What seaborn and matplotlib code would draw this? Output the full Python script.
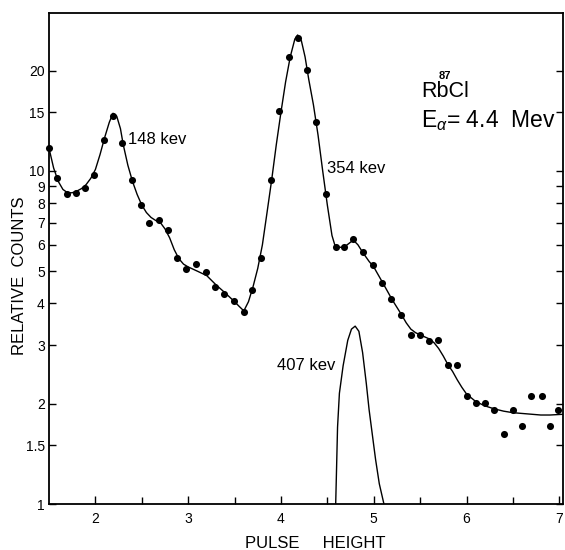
import matplotlib
matplotlib.use("Agg")
import matplotlib.pyplot as plt
import matplotlib.ticker as mticker
import seaborn as sns
import pandas as pd

# ---- data ----
pulse_height = [1.50, 1.59, 1.69, 1.79, 1.89, 1.99, 2.09, 2.19, 2.29, 2.39,
                2.49, 2.58, 2.69, 2.78, 2.88, 2.98, 3.08, 3.19, 3.29, 3.39,
                3.49, 3.60, 3.69, 3.79, 3.89, 3.98, 4.09, 4.18, 4.28, 4.38,
                4.49, 4.59, 4.68, 4.78, 4.88, 4.99, 5.09, 5.19, 5.29, 5.40,
                5.50, 5.60, 5.69, 5.80, 5.90, 6.00, 6.10, 6.20, 6.30, 6.40,
                6.50, 6.60, 6.70, 6.81, 6.90, 6.99]
counts = [11.75, 9.5, 8.5, 8.6, 8.9, 9.7, 12.4, 14.6, 12.1, 9.4,
          7.9, 6.97, 7.13, 6.65, 5.47, 5.07, 5.26, 4.96, 4.47, 4.27,
          4.06, 3.78, 4.39, 5.49, 9.4, 15.1, 22.0, 25.1, 20.1, 14.0,
          8.53, 5.9, 5.9, 6.23, 5.7, 5.22, 4.62, 4.12, 3.69, 3.21,
          3.21, 3.09, 3.11, 2.61, 2.61, 2.11, 2.01, 2.01, 1.91, 1.62,
          1.92, 1.71, 2.11, 2.11, 1.72, 1.92]

fit_x = [1.50, 1.55, 1.60, 1.65, 1.70, 1.75, 1.80, 1.85, 1.90, 1.95,
         2.00, 2.05, 2.10, 2.15, 2.19, 2.23, 2.27, 2.30, 2.35, 2.40,
         2.45, 2.50, 2.55, 2.60, 2.65, 2.70, 2.75, 2.80, 2.85, 2.90,
         2.95, 3.00, 3.10, 3.20, 3.30, 3.40, 3.50, 3.55, 3.60, 3.65,
         3.70, 3.75, 3.80, 3.85, 3.90, 3.95, 4.00, 4.05, 4.10, 4.15,
         4.18, 4.22, 4.26, 4.30, 4.35, 4.40, 4.45, 4.50, 4.55, 4.58,
         4.62, 4.68, 4.73, 4.78, 4.83, 4.88, 4.95, 5.00, 5.10, 5.20,
         5.30, 5.35, 5.40, 5.45, 5.50, 5.60, 5.65, 5.70, 5.75, 5.80,
         5.85, 5.90, 5.95, 6.00, 6.10, 6.20, 6.30, 6.40, 6.50, 6.60,
         6.70, 6.80, 6.90, 7.05]
fit_y = [11.7, 10.2, 9.3, 8.8, 8.6, 8.6, 8.7, 8.85, 9.1, 9.5,
         10.1, 11.2, 12.6, 14.0, 14.9, 14.6, 13.4, 12.0, 10.4, 9.3,
         8.5, 7.9, 7.5, 7.25, 7.1, 7.0, 6.7, 6.3, 5.8, 5.45,
         5.25, 5.15, 5.0, 4.85, 4.55, 4.3, 4.05, 3.92, 3.80, 4.05,
         4.5, 5.1, 6.0, 7.5, 9.4, 12.0, 15.0, 18.5, 22.0, 24.9,
         25.6, 24.6, 22.0, 18.8, 15.8, 12.8, 10.0, 7.9, 6.4, 6.0,
         5.9, 5.9, 6.05, 6.2, 6.0, 5.7, 5.35, 5.15, 4.6, 4.1,
         3.7, 3.5, 3.35, 3.27, 3.22, 3.13, 3.05, 2.93, 2.78, 2.62,
         2.50, 2.36, 2.24, 2.14, 2.03, 1.97, 1.93, 1.90, 1.88, 1.87,
         1.86, 1.85, 1.85, 1.86]

peak407_x = [4.59, 4.60, 4.61, 4.63, 4.67, 4.72, 4.76, 4.80, 4.84, 4.88,
             4.92, 4.95, 5.00, 5.02, 5.06, 5.11]
peak407_y = [1.0, 1.3, 1.7, 2.15, 2.6, 3.1, 3.35, 3.42, 3.3, 2.85,
             2.3, 1.92, 1.5, 1.36, 1.15, 1.0]

y_ticks = [1, 1.5, 2, 3, 4, 5, 6, 7, 8, 9, 10, 15, 20]
y_tick_labels = ["1", "1.5", "2", "3", "4", "5", "6", "7", "8", "9", "10", "15", "20"]
x_ticks = [2, 3, 4, 5, 6, 7]
x_minor_ticks = [2.5, 3.5, 4.5, 5.5, 6.5]

# ---- style ----
sns.set_theme(style="ticks")
plt.rcParams["font.family"] = ["Liberation Sans", "DejaVu Sans"]
plt.rcParams["text.color"] = "black"
plt.rcParams["axes.labelcolor"] = "black"
plt.rcParams["mathtext.fontset"] = "custom"
plt.rcParams["mathtext.rm"] = "Liberation Sans"
plt.rcParams["mathtext.it"] = "Liberation Sans:italic"

fig = plt.figure(figsize=(5.65, 5.5), dpi=100)
ax = fig.add_axes([49 / 565, 46 / 550, (563 - 49) / 565, (504 - 13) / 550])

pts = pd.DataFrame({"x": pulse_height, "y": counts})
fit = pd.DataFrame({"x": fit_x, "y": fit_y})
p407 = pd.DataFrame({"x": peak407_x, "y": peak407_y})

ax.set_yscale("log")
sns.lineplot(data=fit, x="x", y="y", ax=ax, color="black", linewidth=1.0,
             sort=False, estimator=None)
sns.lineplot(data=p407, x="x", y="y", ax=ax, color="black", linewidth=1.0,
             sort=False, estimator=None)
sns.scatterplot(data=pts, x="x", y="y", ax=ax, color="black", s=26,
                edgecolor="black", linewidth=0, clip_on=False, zorder=5)

ax.set_xlim(1.5, 7.04)
ax.set_ylim(1, 29.8)

ax.set_yticks(y_ticks)
ax.set_yticklabels(y_tick_labels)
ax.yaxis.set_minor_locator(mticker.NullLocator())
ax.set_xticks(x_ticks)
ax.set_xticks(x_minor_ticks, minor=True)
ax.tick_params(axis="both", which="both", direction="in", color="black",
               width=1.0, labelsize=10, labelcolor="black")
ax.tick_params(axis="y", which="major", length=5, pad=3, right=True)
ax.tick_params(axis="x", which="major", length=6, pad=6)
ax.tick_params(axis="x", which="minor", length=5)

for s in ax.spines.values():
    s.set_visible(True)
    s.set_color("black")
    s.set_linewidth(1.3)

ax.set_xlabel("")
ax.set_ylabel("")
ax.grid(False)

# annotations
ax.text(2.35, 12.4, "148 kev", fontsize=12, va="center", ha="left", color="black")
ax.text(4.50, 10.2, "354 kev", fontsize=12, va="center", ha="left", color="black")
ax.text(3.96, 2.61, "407 kev", fontsize=12, va="center", ha="left", color="black")

fig.text(421 / 565, 1 - 97 / 550, "RbCl", fontsize=15.5, ha="left", va="baseline")
fig.text(439 / 565, 1 - 79 / 550, "87", fontsize=8, fontweight="bold",
         ha="left", va="baseline")
fig.text(421 / 565, 1 - 127 / 550, r"E$_{\alpha}$= 4.4  Mev", fontsize=16.5,
         ha="left", va="baseline")

fig.text(20 / 565, 1 - 276 / 550, "RELATIVE  COUNTS", fontsize=12,
         rotation=90, ha="center", va="center")
fig.text(315 / 565, 1 - 543 / 550, "PULSE     HEIGHT", fontsize=12,
         ha="center", va="center")

fig.savefig("out.png", dpi=100, facecolor="white")
